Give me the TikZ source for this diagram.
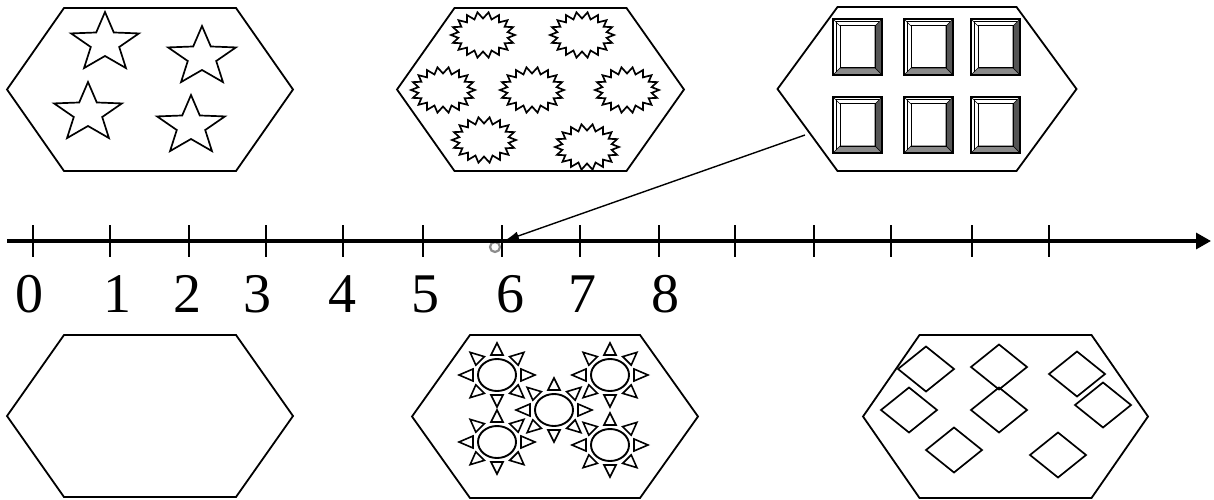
\documentclass[tikz,border=0pt]{standalone}
\usepackage{fontspec}
\setmainfont{Liberation Serif}
\usetikzlibrary{arrows.meta}
\definecolor{rightgray}{HTML}{555555}
\definecolor{botgray}{HTML}{8A8A8A}
\definecolor{markgray}{HTML}{8C8C8C}
\newcommand{\hexag}[6]{%
  \draw[hexline] (#2-#4,#3) -- (#2-#5,#3-#6) -- (#2+#5,#3-#6) -- (#2+#4,#3) -- (#2+#5,#3+#6) -- (#2-#5,#3+#6) -- cycle;
  \coordinate (#1) at (#2,#3);}
\newcommand{\starsh}[2]{%
  \draw[shapeline,shift={(#1,#2)}] (0,-31) \foreach \k in {1,...,9}{ -- ({ifthenelse(isodd(\k),13,31)*1.15*cos(-90+36*\k)}, {ifthenelse(isodd(\k),13,31)*sin(-90+36*\k)}) } -- cycle;}
\newcommand{\burst}[2]{%
  \draw[shapeline,shift={(#1,#2)}] (32,0) \foreach \k in {1,...,35}{ -- ({ifthenelse(isodd(\k),25,32)*cos(10*\k)}, {ifthenelse(isodd(\k),16.5,23)*sin(10*\k)}) } -- cycle;}
\newcommand{\sunsh}[2]{%
  \begin{scope}[shift={(#1,#2)}]
    \draw[line width=1.9pt] (0,0) ellipse [x radius=19, y radius=16];
    \foreach \t in {0,45,...,315}{
      \draw[line width=1.6pt] ({24*cos(\t)-6*sin(\t)}, {20*sin(\t)+6*cos(\t)}) -- ({38*cos(\t)},{32*sin(\t)}) -- ({24*cos(\t)+6*sin(\t)}, {20*sin(\t)-6*cos(\t)}) -- cycle;}
  \end{scope}}
\newcommand{\bevelsq}[2]{%
  \begin{scope}[shift={(#1,#2)}]
    \fill[white] (0,0) rectangle (49,56);
    \draw[line width=0.6pt, fill=rightgray] (49,0) -- (49,56) -- (42,49) -- (42,7) -- cycle;
    \draw[line width=0.6pt, fill=botgray] (0,56) -- (49,56) -- (42,49) -- (7,49) -- cycle;
    \draw[line width=0.6pt] (0,0) -- (7,7);
    \draw[line width=0.6pt] (2.8,53.2) -- (2.8,2.8) -- (46.2,2.8);
    \draw[line width=1pt] (7,7) rectangle (42,49);
    \draw[line width=2.4pt] (0,0) rectangle (49,56);
  \end{scope}}
\newcommand{\diam}[2]{%
  \draw[shapeline] (#1-28,#2) -- (#1,#2-22.5) -- (#1+28,#2) -- (#1,#2+22.5) -- cycle;}
\begin{document}
\begin{tikzpicture}[x=1pt,y=-1pt,line join=miter,
  hexline/.style={line width=1.8pt},
  shapeline/.style={line width=1.7pt},
  ticksty/.style={line width=1.8pt},
  numlabel/.style={anchor=base, inner sep=0pt, font=\fontsize{56}{60}\selectfont}]
\useasboundingbox (0,0) rectangle (1214,500);
\fill[white] (0,0) rectangle (1214,500);

% top row hexagons
\hexag{hexTL}{150}{89.5}{143}{86}{81.5}
\hexag{hexTM}{540.5}{89.5}{143.5}{86}{81.5}
\hexag{hexTR}{927}{89}{149.5}{89.5}{82}
% bottom row hexagons
\hexag{hexBL}{150}{416}{143}{86}{81}
\hexag{hexBM}{555}{416.5}{143}{85}{81.5}
\hexag{hexBR}{1005.5}{416.5}{142.5}{86}{81.5}

% stars
\starsh{105}{43}
\starsh{202}{57}
\starsh{88}{113}
\starsh{191}{126}

% starbursts
\burst{483}{35}
\burst{582}{35}
\burst{443}{90}
\burst{532}{90}
\burst{627}{90}
\burst{484}{140}
\burst{587}{147}

% bevelled squares
\bevelsq{833}{19}
\bevelsq{904}{19}
\bevelsq{971}{19}
\bevelsq{833}{97}
\bevelsq{904}{97}
\bevelsq{971}{97}

% suns
\sunsh{497}{375}
\sunsh{610}{375}
\sunsh{554}{410}
\sunsh{497}{442}
\sunsh{610}{445}

% diamonds
\diam{926}{369}
\diam{999}{367}
\diam{1077}{374}
\diam{909}{410}
\diam{999}{410}
\diam{1103}{405}
\diam{954}{450}
\diam{1058}{455}

% number line
\draw[markgray, line width=2.2pt] (495,247) circle [radius=5];
\coordinate (lineStart) at (7,241);
\coordinate (lineEnd) at (1211,241);
\draw[line width=3.2pt, -{Triangle[length=15pt,width=16pt]}] (lineStart) -- (lineEnd);
\foreach \x in {33,110,189,266,343,423,502,580,659,735,814,891,972,1049}
  \draw[ticksty] (\x,225) -- (\x,257);
\foreach \v/\x in {0/30,1/117,2/187,3/257,4/342,5/425,6/510,7/582,8/665}
  \node[numlabel] (n\v) at (\x,312) {\v};

% pointer arrow
\coordinate (arrowFrom) at (805,135);
\coordinate (arrowTo) at (504,241);
\draw[line width=1.4pt, -{Latex[length=15pt,width=9pt]}] (arrowFrom) -- (arrowTo);
\end{tikzpicture}
\end{document}
